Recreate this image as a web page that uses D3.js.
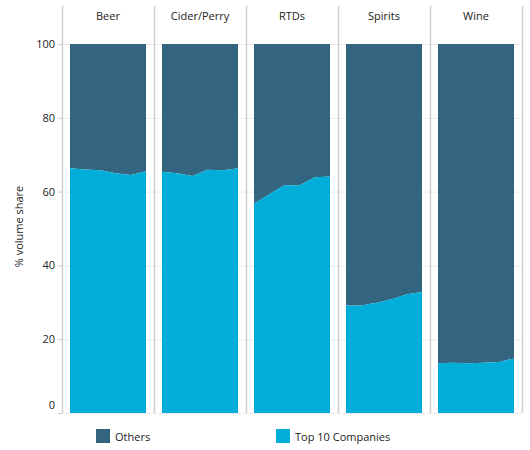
<!DOCTYPE html>
<html>
<head>
<meta charset="utf-8">
<script src="https://cdn.jsdelivr.net/npm/d3@7"></script>
<style>
  body { margin: 0; background: #fff; }
  text { font-family: "Open Sans", "Noto Sans", sans-serif; fill: #222; }
</style>
</head>
<body>
<svg id="chart"></svg>
<script>
// categories, periods and shares
let categories = ["Beer", "Cider/Perry", "RTDs", "Spirits", "Wine"]
let periods = [0, 1, 2, 3, 4, 5]
let top10Share = {
    "Beer":        [66.3, 66.0, 65.8, 65.0, 64.5, 65.5],
    "Cider/Perry": [65.4, 65.0, 64.2, 65.9, 65.8, 66.3],
    "RTDs":        [56.7, 59.3, 61.7, 61.7, 63.9, 64.1],
    "Spirits":     [29.1, 29.1, 29.9, 30.8, 32.2, 32.8],
    "Wine":        [13.5, 13.6, 13.5, 13.6, 13.8, 14.8]
}
let yTicks = [0, 20, 40, 60, 80, 100]
let seriesNames = ["Others", "Top 10 Companies"]
let colors = { "Others": "#336480", "Top 10 Companies": "#00aed9" }

let W = 530, H = 450
let margin = { top: 44, right: 8, bottom: 37, left: 62 }

let svg = d3.select("#chart")
    .attr("width", W)
    .attr("height", H)

let panel = d3.scaleBand()
    .domain(categories)
    .range([margin.left, W - margin.right])
    .paddingInner(0.174)
    .paddingOuter(0.087)

let y = d3.scaleLinear()
    .domain([0, 100])
    .range([H - margin.bottom, margin.top])

let step = panel.step()
let innerLeft = margin.left, innerRight = margin.left + step * categories.length

// horizontal grid lines
svg.append("g")
    .selectAll("line")
    .data(yTicks)
    .join("line")
    .attr("x1", innerLeft)
    .attr("x2", innerRight)
    .attr("y1", d => y(d) + 0.5)
    .attr("y2", d => y(d) + 0.5)
    .attr("stroke", "#ececec")

// y axis
let yAxis = svg.append("g")
    .attr("transform", "translate(" + innerLeft + ",0)")
    .call(d3.axisLeft(y).tickValues(yTicks).tickSize(4).tickPadding(3))
yAxis.select(".domain").remove()
yAxis.selectAll(".tick line").attr("stroke", "#cccccc")
yAxis.selectAll(".tick text")
    .style("font-size", "11px")
    .attr("fill", "#222")
yAxis.selectAll(".tick")
    .filter(d => d === 0)
    .select("text")
    .attr("dy", "-0.45em")

svg.append("text")
    .attr("transform", "translate(23," + (y(50) - 2) + ") rotate(-90)")
    .attr("text-anchor", "middle")
    .style("font-size", "11px")
    .text("% volume share")

// panel separators
let seps = d3.range(categories.length + 1).map(i => innerLeft + i * step)
svg.append("g")
    .selectAll("line")
    .data(seps)
    .join("line")
    .attr("x1", d => Math.round(d) + 0.5)
    .attr("x2", d => Math.round(d) + 0.5)
    .attr("y1", 6)
    .attr("y2", y(0))
    .attr("stroke", "#cfcfcf")
    .attr("stroke-width", 1.5)

// panel headers
svg.append("g")
    .selectAll("text")
    .data(categories)
    .join("text")
    .attr("x", d => panel(d) + panel.bandwidth() / 2)
    .attr("y", 20)
    .attr("text-anchor", "middle")
    .style("font-size", "11px")
    .text(d => d)

// stacked areas per panel
categories.forEach(function (cat) {
    let x = d3.scalePoint()
        .domain(periods)
        .range([panel(cat), panel(cat) + panel.bandwidth()])

    let rows = periods.map((p, i) => ({ period: p, top: top10Share[cat][i] }))

    let othersArea = d3.area()
        .x(d => x(d.period))
        .y0(d => y(d.top))
        .y1(y(100))

    let topArea = d3.area()
        .x(d => x(d.period))
        .y0(y(0))
        .y1(d => y(d.top))

    svg.append("path")
        .datum(rows)
        .attr("d", othersArea)
        .attr("fill", colors["Others"])

    svg.append("path")
        .datum(rows)
        .attr("d", topArea)
        .attr("fill", colors["Top 10 Companies"])
})

// legend
let legendX = [96, 276]
let legend = svg.append("g")
    .selectAll("g")
    .data(seriesNames)
    .join("g")
    .attr("transform", (d, i) => "translate(" + legendX[i] + ",429)")

legend.append("rect")
    .attr("width", 14)
    .attr("height", 14)
    .attr("fill", d => colors[d])

legend.append("text")
    .attr("x", 19)
    .attr("y", 11.5)
    .style("font-size", "11px")
    .text(d => d)
</script>
</body>
</html>
